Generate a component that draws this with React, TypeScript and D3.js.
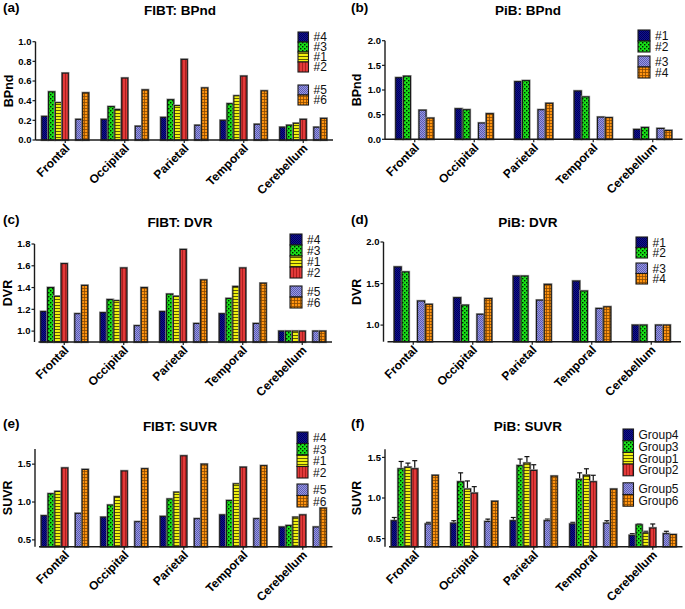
import React from "react";
import * as d3 from "d3";

// ---------- data ----------
const regions = ["Frontal", "Occipital", "Parietal", "Temporal", "Cerebellum"];
const fibtGroups = ["#4", "#3", "#1", "#2", "#5", "#6"];
const pibGroups = ["#1", "#2", "#3", "#4"];
const suvrGroups = ["Group4", "Group3", "Group1", "Group2", "Group5", "Group6"];

// rows = groups, columns = regions
const fibtBPnd = [
  [0.24, 0.21, 0.23, 0.2, 0.13],
  [0.49, 0.34, 0.41, 0.37, 0.15],
  [0.38, 0.31, 0.35, 0.45, 0.17],
  [0.68, 0.63, 0.82, 0.65, 0.21],
  [0.21, 0.14, 0.15, 0.16, 0.13],
  [0.48, 0.51, 0.53, 0.5, 0.22],
];
const pibBPnd = [
  [1.25, 0.62, 1.17, 0.98, 0.2],
  [1.28, 0.6, 1.19, 0.86, 0.24],
  [0.59, 0.33, 0.6, 0.45, 0.22],
  [0.43, 0.52, 0.73, 0.44, 0.18],
];
const fibtDVR = [
  [1.18, 1.17, 1.18, 1.16, 1.0],
  [1.4, 1.29, 1.34, 1.3, 1.0],
  [1.32, 1.28, 1.32, 1.41, 1.0],
  [1.62, 1.58, 1.75, 1.58, 1.0],
  [1.16, 1.05, 1.07, 1.07, 1.0],
  [1.42, 1.4, 1.47, 1.44, 1.0],
];
const pibDVR = [
  [1.7, 1.33, 1.59, 1.53, 1.0],
  [1.64, 1.24, 1.59, 1.41, 1.0],
  [1.29, 1.13, 1.3, 1.2, 1.0],
  [1.25, 1.32, 1.49, 1.22, 1.0],
];
const fibtSUVR = [
  [0.82, 0.8, 0.81, 0.83, 0.67],
  [1.11, 0.96, 1.04, 1.02, 0.69],
  [1.14, 1.07, 1.13, 1.24, 0.8],
  [1.45, 1.41, 1.61, 1.46, 0.83],
  [0.85, 0.74, 0.78, 0.78, 0.67],
  [1.43, 1.44, 1.5, 1.48, 0.92],
];
const pibSUVR = [
  [0.72, 0.69, 0.72, 0.68, 0.54],
  [1.36, 1.2, 1.4, 1.23, 0.67],
  [1.38, 1.11, 1.43, 1.28, 0.57],
  [1.36, 1.06, 1.34, 1.2, 0.63],
  [0.68, 0.71, 0.72, 0.69, 0.56],
  [1.28, 0.96, 1.27, 1.11, 0.55],
];
const pibSUVRErr = [
  [0.04, 0.03, 0.04, 0.02, 0.02],
  [0.09, 0.11, 0.08, 0.08, 0.01],
  [0.05, 0.1, 0.08, 0.08, 0.02],
  [0.1, 0.08, 0.07, 0.08, 0.05],
  [0.02, 0.03, 0.02, 0.03, 0.03],
  [0, 0, 0, 0, 0],
];

const ticksBPndFibt = [0, 0.2, 0.4, 0.6, 0.8, 1.0];
const ticksBPndPib = [0, 0.5, 1.0, 1.5, 2.0];
const ticksDVRFibt = [1.0, 1.2, 1.4, 1.6, 1.8];
const ticksDVRPib = [1.0, 1.5, 2.0];
const ticksSUVR = [0.5, 1.0, 1.5];

// ---------- styles ----------
const FONT = "'Liberation Sans', Arial, Helvetica, sans-serif";
const sixPatterns = ["pNavy", "pGreen", "pYellow", "pRed", "pLav", "pOrange"];
const fourPatterns = ["pNavy", "pGreen", "pLav", "pOrange"];

type Spec = {
  label: string;
  title: string;
  yTitle: string;
  ox: number;
  titleX: number;
  titleY: number;
  labelX: number;
  yTitleX: number;
  top: number;
  bottom: number;
  domain: [number, number];
  ticks: number[];
  tickFmt: string;
  groups: string[];
  data: number[][];
  err?: number[][];
  patterns: string[];
  split: number;
  padInner: number;
  legX: number;
  legY: number;
  legRow: number;
  legGap: number;
  legSplit: number;
  legBoxW: number;
  xGap: number;
};

const panels: Spec[] = [
  {
    label: "(a)", title: "FIBT: BPnd", yTitle: "BPnd", ox: 35.5, titleX: 180, titleY: 15, labelX: 3, yTitleX: 13,
    top: 41.7, bottom: 140, domain: [0, 1.0], ticks: ticksBPndFibt, tickFmt: ".1f",
    groups: fibtGroups, data: fibtBPnd, patterns: sixPatterns, split: 4, padInner: 0.21,
    legX: 298, legY: 32, legRow: 10, legGap: 13, legSplit: 4, legBoxW: 10.5, xGap: 0,
  },
  {
    label: "(b)", title: "PiB: BPnd", yTitle: "BPnd", ox: 385, titleX: 528, titleY: 15, labelX: 351, yTitleX: 361,
    top: 40.7, bottom: 139.3, domain: [0, 2.0], ticks: ticksBPndPib, tickFmt: ".1f",
    groups: pibGroups, data: pibBPnd, patterns: fourPatterns, split: 2, padInner: 0.36,
    legX: 638, legY: 30, legRow: 11, legGap: 4, legSplit: 2, legBoxW: 12, xGap: 0,
  },
  {
    label: "(c)", title: "FIBT: DVR", yTitle: "DVR", ox: 34.5, titleX: 180, titleY: 227, labelX: 3, yTitleX: 12,
    top: 244, bottom: 342, domain: [0.9, 1.8], ticks: ticksDVRFibt, tickFmt: ".1f",
    groups: fibtGroups, data: fibtDVR, patterns: sixPatterns, split: 4, padInner: 0.21,
    legX: 290, legY: 234, legRow: 11, legGap: 8, legSplit: 4, legBoxW: 12, xGap: 4,
  },
  {
    label: "(d)", title: "PiB: DVR", yTitle: "DVR", ox: 383.5, titleX: 528, titleY: 227, labelX: 351, yTitleX: 361,
    top: 242, bottom: 341.7, domain: [0.8, 2.0], ticks: ticksDVRPib, tickFmt: ".1f",
    groups: pibGroups, data: pibDVR, patterns: fourPatterns, split: 2, padInner: 0.36,
    legX: 636, legY: 237, legRow: 10.5, legGap: 5, legSplit: 2, legBoxW: 11.5, xGap: 4,
  },
  {
    label: "(e)", title: "FIBT: SUVR", yTitle: "SUVR", ox: 35, titleX: 180, titleY: 431, labelX: 3, yTitleX: 12,
    top: 449, bottom: 546.7, domain: [0.41, 1.7], ticks: ticksSUVR, tickFmt: ".1f",
    groups: fibtGroups, data: fibtSUVR, patterns: sixPatterns, split: 4, padInner: 0.21,
    legX: 297, legY: 432, legRow: 11.5, legGap: 6, legSplit: 4, legBoxW: 11, xGap: 4,
  },
  {
    label: "(f)", title: "PiB: SUVR", yTitle: "SUVR", ox: 385, titleX: 528, titleY: 431, labelX: 351, yTitleX: 361,
    top: 449.3, bottom: 546.7, domain: [0.4, 1.6], ticks: ticksSUVR, tickFmt: ".1f",
    groups: suvrGroups, data: pibSUVR, err: pibSUVRErr, patterns: sixPatterns, split: 4, padInner: 0.21,
    legX: 623, legY: 429, legRow: 11.7, legGap: 7, legSplit: 4, legBoxW: 10.5, xGap: 4,
  },
];

function Defs() {
  return (
    <defs>
      <pattern id="pNavy" patternUnits="userSpaceOnUse" width="2" height="2">
        <rect width="2" height="2" fill="#12128f" />
        <rect width="1" height="1" fill="#00005a" />
        <rect x="1" y="1" width="1" height="1" fill="#00005a" />
      </pattern>
      <pattern id="pGreen" patternUnits="userSpaceOnUse" width="4" height="4">
        <rect width="4" height="4" fill="#18e018" />
        <rect width="1.4" height="1.4" fill="#002000" />
        <rect x="2" y="2" width="1.4" height="1.4" fill="#002000" />
      </pattern>
      <pattern id="pYellow" patternUnits="userSpaceOnUse" width="3" height="3">
        <rect width="3" height="3" fill="#f0f010" />
        <rect y="2" width="3" height="0.9" fill="#4a4a00" />
      </pattern>
      <pattern id="pRed" patternUnits="userSpaceOnUse" width="3" height="3">
        <rect width="3" height="3" fill="#e23a3a" />
        <rect x="2" width="0.9" height="3" fill="#a81a1a" />
      </pattern>
      <pattern id="pLav" patternUnits="userSpaceOnUse" width="2" height="2">
        <rect width="2" height="2" fill="#9898e4" />
        <rect width="1" height="1" fill="#5c5cb0" />
        <rect x="1" y="1" width="1" height="1" fill="#5c5cb0" />
      </pattern>
      <pattern id="pOrange" patternUnits="userSpaceOnUse" width="3" height="3">
        <rect width="3" height="3" fill="#ff9410" />
        <rect width="3" height="0.8" fill="#8a4a00" />
        <rect width="0.8" height="3" fill="#8a4a00" />
      </pattern>
    </defs>
  );
}

function Panel({ s }: { s: Spec }) {
  const x0 = d3
    .scaleBand<string>()
    .domain(regions)
    .range([s.ox, s.ox + 297.5])
    .paddingInner(s.padInner)
    .paddingOuter(s.padInner / 2);
  const slots = [...s.groups.slice(0, s.split), "_gap", ...s.groups.slice(s.split)];
  const x1 = d3.scaleBand<string>().domain(slots).range([0, x0.bandwidth()]).paddingInner(0.1);
  const y = d3.scaleLinear().domain(s.domain).range([s.bottom, s.top]);
  const fmt = d3.format(s.tickFmt);
  const axisColor = "#1a1a1a";

  return (
    <g>
      <text x={s.labelX} y={s.titleY - 3} fontFamily={FONT} fontWeight="bold" fontSize={13.5}>
        {s.label}
      </text>
      <text x={s.titleX} y={s.titleY} textAnchor="middle" fontFamily={FONT} fontWeight="bold" fontSize={13.5}>
        {s.title}
      </text>
      <text
        transform={`translate(${s.yTitleX},${(s.top + s.bottom) / 2}) rotate(-90)`}
        textAnchor="middle"
        fontFamily={FONT}
        fontWeight="bold"
        fontSize={12.5}
      >
        {s.yTitle}
      </text>

      {s.groups.map((g, gi) =>
        regions.map((r, ri) => {
          const v = s.data[gi][ri];
          const bx = (x0(r) as number) + (x1(g) as number);
          const bw = x1.bandwidth();
          const yt = y(v);
          const e = s.err ? s.err[gi][ri] : 0;
          return (
            <g key={g + r}>
              {e > 0 && (
                <g stroke="#111" strokeWidth={1.2}>
                  <line x1={bx + bw / 2} x2={bx + bw / 2} y1={yt} y2={y(v + e)} />
                  <line x1={bx + bw / 2 - 2.5} x2={bx + bw / 2 + 2.5} y1={y(v + e)} y2={y(v + e)} />
                </g>
              )}
              <rect x={bx} y={yt} width={bw} height={s.bottom - yt} fill="none" stroke="#9a9a9a" strokeWidth={2.4} />
              <rect
                x={bx}
                y={yt}
                width={bw}
                height={s.bottom - yt}
                fill={`url(#${s.patterns[gi]})`}
                stroke="#1a1a1a"
                strokeWidth={1.1}
              />
            </g>
          );
        })
      )}

      <line x1={s.ox} x2={s.ox} y1={s.top} y2={s.bottom} stroke={axisColor} strokeWidth={1.4} />
      {s.ticks.map((t) => (
        <g key={t}>
          <line x1={s.ox - 3} x2={s.ox} y1={y(t)} y2={y(t)} stroke={axisColor} strokeWidth={1.2} />
          <text x={s.ox - 4} y={y(t)} dy="0.35em" textAnchor="end" fontFamily={FONT} fontWeight="bold" fontSize={9.5}>
            {fmt(t)}
          </text>
        </g>
      ))}

      <line x1={s.ox + s.xGap} x2={s.ox + 297.5} y1={s.bottom} y2={s.bottom} stroke={axisColor} strokeWidth={1.4} />
      {regions.map((r) => {
        const cx = (x0(r) as number) + x0.bandwidth() / 2;
        return (
          <g key={r}>
            <line x1={cx} x2={cx} y1={s.bottom} y2={s.bottom + 3} stroke={axisColor} strokeWidth={1.2} />
            <text
              transform={`translate(${cx + 5},${s.bottom + 9}) rotate(-45)`}
              textAnchor="end"
              fontFamily={FONT}
              fontWeight="bold"
              fontSize={12}
            >
              {r}
            </text>
          </g>
        );
      })}

      {s.groups.map((g, gi) => {
        const yy = s.legY + gi * s.legRow + (gi >= s.legSplit ? s.legGap : 0);
        return (
          <g key={"leg" + g}>
            <rect
              x={s.legX}
              y={yy}
              width={s.legBoxW}
              height={s.legRow}
              fill={`url(#${s.patterns[gi]})`}
              stroke="#1a1a1a"
              strokeWidth={1.1}
            />
            <text
              x={s.legX + s.legBoxW + 5}
              y={yy + s.legRow / 2}
              dy="0.36em"
              fontFamily={FONT}
              fontSize={12}
              fill="#111"
            >
              {g}
            </text>
          </g>
        );
      })}
    </g>
  );
}

export default function App() {
  return (
    <svg width={685} height={609} viewBox="0 0 685 609" style={{ position: "absolute", left: 0, top: 0, background: "#fff" }}>
      <Defs />
      <rect width={685} height={609} fill="#fff" />
      {panels.map((p) => (
        <Panel key={p.label} s={p} />
      ))}
    </svg>
  );
}
